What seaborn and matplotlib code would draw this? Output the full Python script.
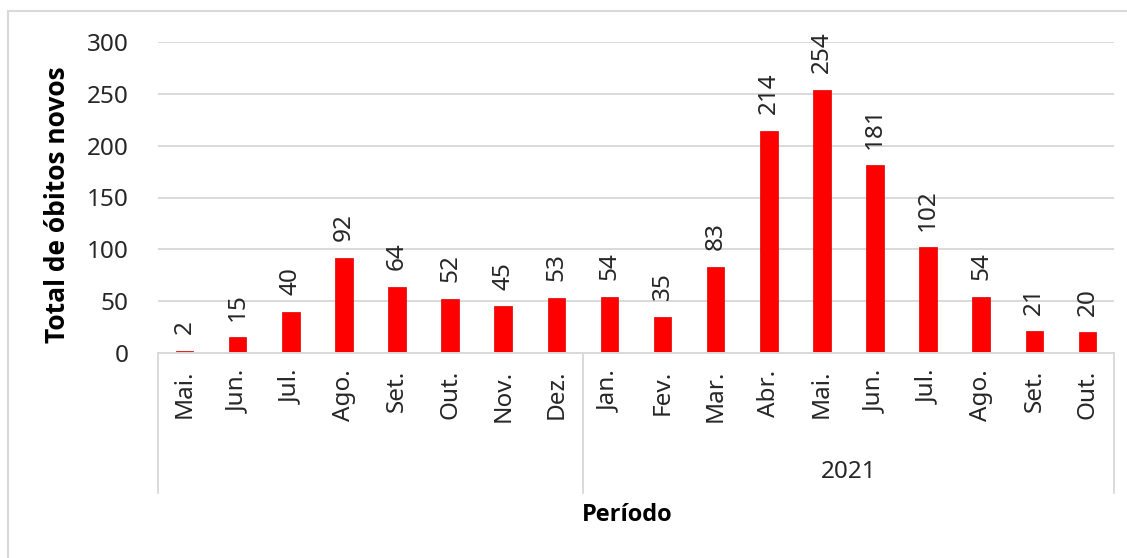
import matplotlib
matplotlib.use("Agg")
import matplotlib.pyplot as plt
import matplotlib.lines as mlines
import seaborn as sns
import pandas as pd

# ---- data ----
months = ["Mai.", "Jun.", "Jul.", "Ago.", "Set.", "Out.", "Nov.", "Dez.",
          "Jan.", "Fev.", "Mar.", "Abr.", "Mai.", "Jun.", "Jul.", "Ago.", "Set.", "Out."]
values = [2, 15, 40, 92, 64, 52, 45, 53, 54, 35, 83, 214, 254, 181, 102, 54, 21, 20]
year_groups = ["", "2021"]
group_sizes = [8, 10]
y_ticks = [0, 50, 100, 150, 200, 250, 300]
y_label = "Total de óbitos novos"
x_label = "Período"

sns.set_theme(style="white")
plt.rcParams["font.family"] = ["Noto Sans", "DejaVu Sans"]

keys = [f"{i:02d}" for i in range(len(months))]
df = pd.DataFrame({"key": keys, "valor": values})

W, H = 1127, 558
fig = plt.figure(figsize=(W / 100, H / 100), dpi=100)
fig.patch.set_facecolor("white")

left_px, right_px, top_px, bottom_px = 158, 1114, 42, 353
ax = fig.add_axes([left_px / W, 1 - bottom_px / H,
                   (right_px - left_px) / W, (bottom_px - top_px) / H])

sns.barplot(data=df, x="key", y="valor", order=keys, color="#FF0000",
            width=0.33, ax=ax, saturation=1, edgecolor="#E00000", linewidth=0.5)

ax.set_ylim(0, 300)
ax.set_xlim(-0.5, len(months) - 0.5)
ax.set_yticks(y_ticks)
ax.yaxis.grid(True, color="#D9D9D9", linewidth=1.4)
ax.set_axisbelow(True)
for s in ["left", "right", "top"]:
    ax.spines[s].set_visible(False)
ax.spines["bottom"].set_color("#D9D9D9")
ax.spines["bottom"].set_linewidth(1.4)

txt_color = "#262626"
ax.set_xticks(range(len(months)))
ax.set_xticklabels(months, rotation=90, fontsize=17.5, color=txt_color)
ax.tick_params(axis="x", length=0, pad=12)
ax.tick_params(axis="y", length=0, pad=21, labelsize=17.5, labelcolor=txt_color)
ax.set_xlabel("")
ax.set_ylabel("")

for c in ax.containers:
    ax.bar_label(c, labels=[str(v) for v in values], rotation=90, padding=12,
                 fontsize=17.5, color=txt_color)

# category group separators
ax_h = bottom_px - top_px
sep_bottom = -(493 - bottom_px) / ax_h
trans = ax.get_xaxis_transform()
bounds = [-0.5]
acc = -0.5
for g in group_sizes:
    acc += g
    bounds.append(acc)
for b in bounds:
    ax.plot([b, b], [0, sep_bottom], transform=trans, color="#D9D9D9",
            linewidth=1.4, clip_on=False)
start = 0
for name, g in zip(year_groups, group_sizes):
    if name:
        ax.text(start + (g - 1) / 2, -(472 - bottom_px) / ax_h, name,
                transform=trans, ha="center", va="center",
                fontsize=17.5, color=txt_color)
    start += g

bold_family = ["Open Sans", "Lato", "DejaVu Sans"]
fig.text(627 / W, 1 - 515 / H, x_label, ha="center", va="center",
         fontsize=17, fontweight="bold", family=bold_family, color="#000000")
fig.text(58 / W, 1 - 205 / H, y_label, ha="center", va="center",
         rotation=90, fontsize=19, fontweight="bold", family=bold_family,
         color="#000000")

# outer chart frame
fig.add_artist(mlines.Line2D([8 / W, 8 / W], [0, 1 - 11 / H], color="#D9D9D9",
                             linewidth=1.5, transform=fig.transFigure))
fig.add_artist(mlines.Line2D([8 / W, 1], [1 - 11 / H, 1 - 11 / H], color="#D9D9D9",
                             linewidth=1.5, transform=fig.transFigure))

fig.savefig("out.png", dpi=100, facecolor="white")
